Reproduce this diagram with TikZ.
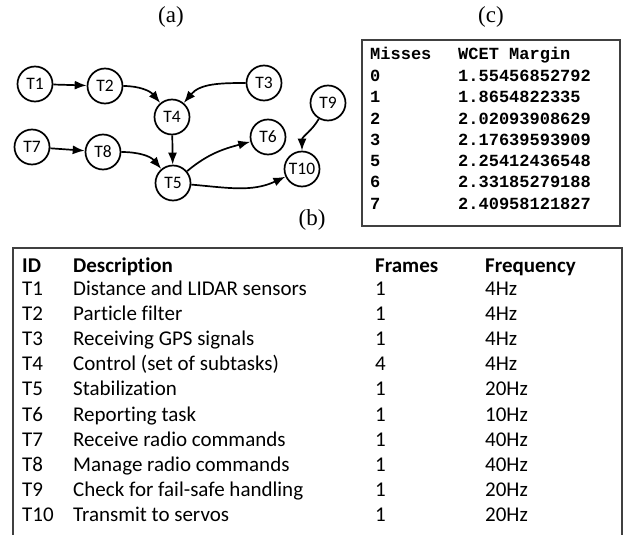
\documentclass[tikz,border=0pt]{standalone}
\usepackage{fontspec}
\setmainfont{Carlito}[Ligatures=NoCommon]
\newfontfamily\serifl{Liberation Serif}
\newfontfamily\monob{Liberation Mono}
\usetikzlibrary{arrows.meta}
\begin{document}
\begin{tikzpicture}[x=1pt,y=1pt,
  task/.style={circle,draw,line width=1.7pt,minimum size=35pt,inner sep=0pt,font=\fontsize{17.5}{17.5}\selectfont},
  edge/.style={line width=1.7pt,-{Latex[length=12pt,width=9pt]}},
  lbl/.style={font=\serifl\fontsize{23}{23}\selectfont,inner sep=0pt},
  tcell/.style={anchor=base west,inner sep=0pt,font=\fontsize{21}{21}\selectfont},
  thead/.style={tcell,font=\bfseries\fontsize{21}{21}\selectfont},
  mcell/.style={anchor=base west,inner sep=0pt,font=\monob\bfseries\fontsize{17}{17}\selectfont},
  boxline/.style={line width=1.2pt,draw=black!75}]
\useasboundingbox (0,0) rectangle (625,-535);
% labels
\node[lbl] (la) at (171,-17) {(a)};
\node[lbl] (lc) at (491,-17) {(c)};
\node[lbl] (lb) at (312,-220) {(b)};
% graph
\node[task] (T1) at (35,-84) {T1};
\node[task] (T2) at (105,-86) {T2};
\node[task] (T3) at (264,-83) {T3};
\node[task] (T4) at (172,-117) {T4};
\node[task] (T5) at (173,-183) {T5};
\node[task] (T6) at (268,-137) {T6};
\node[task] (T7) at (32,-147) {T7};
\node[task] (T8) at (103,-152) {T8};
\node[task] (T9) at (328,-103) {T9};
\node[task] (T10) at (302,-169) {T10};
\draw[edge] (T1) -- (T2);
\draw[edge] (T2) to[out=0,in=130] (T4);
\draw[edge] (T3) to[out=180,in=50] (T4);
\draw[edge] (T4) -- (T5);
\draw[edge] (T7) -- (T8);
\draw[edge] (T8) to[out=0,in=130] (T5);
\draw[edge] (T5) to[out=40,in=195] (T6);
\draw[edge] (T5) to[out=-5,in=205] (T10);
\draw[edge] (T9) to[out=240,in=90] (T10);
% table (c)
\draw[boxline] (362,-40) rectangle (620,-226);
\node[mcell] (mh1) at (370,-59.7) {Misses};
\node[mcell] (mh2) at (458,-59.7) {WCET Margin};
\foreach \m/\v/\y in {0/1.55456852792/81.7, 1/1.8654822335/102.9, 2/2.02093908629/124.2,
  3/2.17639593909/145.4, 5/2.25412436548/166.7, 6/2.33185279188/187.9, 7/2.40958121827/209.2}{
  \node[mcell] (mm\m) at (370,-\y) {\m};
  \node[mcell] (mv\m) at (458,-\y) {\v};
}
% table bottom
\draw[boxline] (13,-540) -- (13,-248) -- (622,-248) -- (622,-540);
\node[thead] (hid) at (22,-272) {ID};
\node[thead] (hdesc) at (73,-272) {Description};
\node[thead] (hfr) at (375,-272) {Frames};
\node[thead] (hfq) at (485,-272) {Frequency};
\foreach \i/\d/\f/\q in {1/Distance and LIDAR sensors/1/4Hz, 2/Particle filter/1/4Hz,
  3/Receiving GPS signals/1/4Hz, 4/Control (set of subtasks)/4/4Hz, 5/Stabilization/1/20Hz,
  6/Reporting task/1/10Hz, 7/Receive radio commands/1/40Hz, 8/Manage radio commands/1/40Hz,
  9/Check for fail-safe handling/1/20Hz, 10/Transmit to servos/1/20Hz}{
  \pgfmathsetmacro\yy{295+(\i-1)*25.2}
  \node[tcell] (id\i) at (22,-\yy) {T\i};
  \node[tcell] (de\i) at (73,-\yy) {\d};
  \node[tcell] (fr\i) at (375,-\yy) {\f};
  \node[tcell] (fq\i) at (485,-\yy) {\q};
}
\end{tikzpicture}
\end{document}
